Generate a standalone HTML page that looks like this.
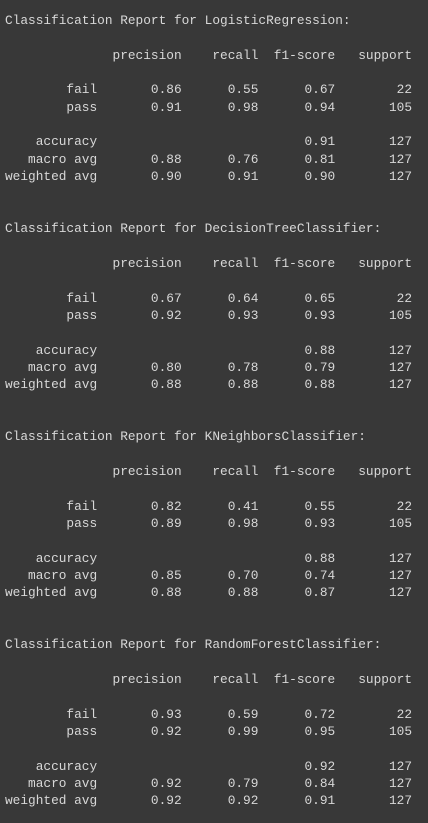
<!DOCTYPE html>
<html><head><meta charset="utf-8"><style>
html,body{margin:0;padding:0;background:#383838;width:428px;height:823px;overflow:hidden}
pre{margin:0;padding:12px 0 0 5px;font-family:"Liberation Mono",monospace;font-size:12.8px;line-height:17.35px;color:#d8d8d8;white-space:pre}
</style></head><body>
<pre>Classification Report for LogisticRegression:

              precision    recall  f1-score   support

        fail       0.86      0.55      0.67        22
        pass       0.91      0.98      0.94       105

    accuracy                           0.91       127
   macro avg       0.88      0.76      0.81       127
weighted avg       0.90      0.91      0.90       127


Classification Report for DecisionTreeClassifier:

              precision    recall  f1-score   support

        fail       0.67      0.64      0.65        22
        pass       0.92      0.93      0.93       105

    accuracy                           0.88       127
   macro avg       0.80      0.78      0.79       127
weighted avg       0.88      0.88      0.88       127


Classification Report for KNeighborsClassifier:

              precision    recall  f1-score   support

        fail       0.82      0.41      0.55        22
        pass       0.89      0.98      0.93       105

    accuracy                           0.88       127
   macro avg       0.85      0.70      0.74       127
weighted avg       0.88      0.88      0.87       127


Classification Report for RandomForestClassifier:

              precision    recall  f1-score   support

        fail       0.93      0.59      0.72        22
        pass       0.92      0.99      0.95       105

    accuracy                           0.92       127
   macro avg       0.92      0.79      0.84       127
weighted avg       0.92      0.92      0.91       127
</pre>
</body></html>
